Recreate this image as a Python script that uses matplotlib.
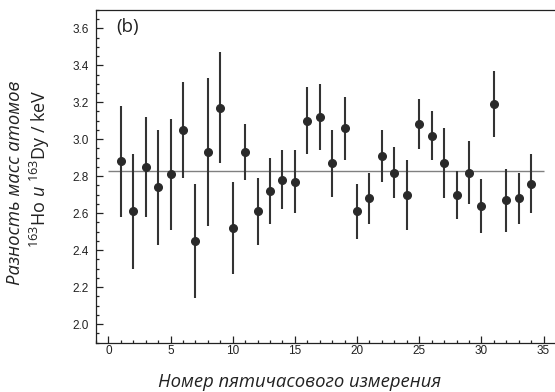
import matplotlib.pyplot as plt
from matplotlib.ticker import MultipleLocator

# номера измерений и значения разности масс (keV) с погрешностями
nomer = list(range(1, 35))
znachenie = [2.88, 2.61, 2.85, 2.74, 2.81, 3.05, 2.45, 2.93, 3.17, 2.52,
             2.93, 2.61, 2.72, 2.78, 2.77, 3.10, 3.12, 2.87, 3.06, 2.61,
             2.68, 2.91, 2.82, 2.70, 3.08, 3.02, 2.87, 2.70, 2.82, 2.64,
             3.19, 2.67, 2.68, 2.76]
oshibka = [0.30, 0.31, 0.27, 0.31, 0.30, 0.26, 0.31, 0.40, 0.30, 0.25,
           0.15, 0.18, 0.18, 0.16, 0.17, 0.18, 0.18, 0.18, 0.17, 0.15,
           0.14, 0.14, 0.14, 0.19, 0.135, 0.13, 0.19, 0.13, 0.17, 0.145,
           0.18, 0.17, 0.14, 0.16]
srednee = 2.83

plt.rcParams['mathtext.fontset'] = 'custom'
plt.rcParams['mathtext.rm'] = 'Open Sans'
plt.rcParams['mathtext.it'] = 'Open Sans:italic'
plt.rcParams['mathtext.default'] = 'regular'

fig = plt.figure(figsize=(5.55, 3.92), dpi=100)
ax = fig.add_axes([0.1728, 0.126, 0.829, 0.849])

ax.hlines(srednee, 0, 35, color='#808080', linewidth=1.0, zorder=1)
ax.errorbar(nomer, znachenie, yerr=oshibka, fmt='o', color='#2a2a2a',
            ecolor='#333333', elinewidth=1.5, markersize=5.5, capsize=0, zorder=3)

ax.set_xlim(-1, 36)
ax.set_ylim(1.9, 3.7)
ax.xaxis.set_major_locator(MultipleLocator(5))
ax.xaxis.set_minor_locator(MultipleLocator(1))
ax.yaxis.set_major_locator(MultipleLocator(0.2))
ax.yaxis.set_minor_locator(MultipleLocator(0.05))
ax.yaxis.set_major_formatter(plt.FormatStrFormatter('%.1f'))
ax.tick_params(which='both', direction='in', top=False, right=False, colors='#222222',
               labelsize=8.5, labelfontfamily='Liberation Sans', width=0.9)
ax.tick_params(which='major', length=5)
ax.tick_params(axis='y', which='major', pad=5)
ax.tick_params(axis='x', which='major', pad=2)
ax.tick_params(which='minor', length=2.5)
ax.spines['right'].set_visible(False)
for s in ['left', 'bottom', 'top']:
    ax.spines[s].set_linewidth(0.9)
    ax.spines[s].set_color('#222222')

ax.text(0.045, 0.975, '(b)', transform=ax.transAxes, va='top', ha='left',
        fontsize=13.5, family='Open Sans', color='#222222')

# подписи осей
fig.text(0.027, 0.533, 'Разность масс атомов', rotation=90, ha='center', va='center',
         fontsize=13.3, family='Open Sans', style='italic', color='#222222')
fig.text(0.072, 0.571, r'$^{163}$Ho $\mathit{и}$ $^{163}$Dy / keV', rotation=90,
         ha='center', va='center', fontsize=13, family='Open Sans', color='#222222')
fig.text(0.54, 0.026, 'Номер пятичасового измерения', ha='center', va='center',
         fontsize=13.3, family='Open Sans', style='italic', color='#222222')

fig.savefig('out.png', dpi=100)
